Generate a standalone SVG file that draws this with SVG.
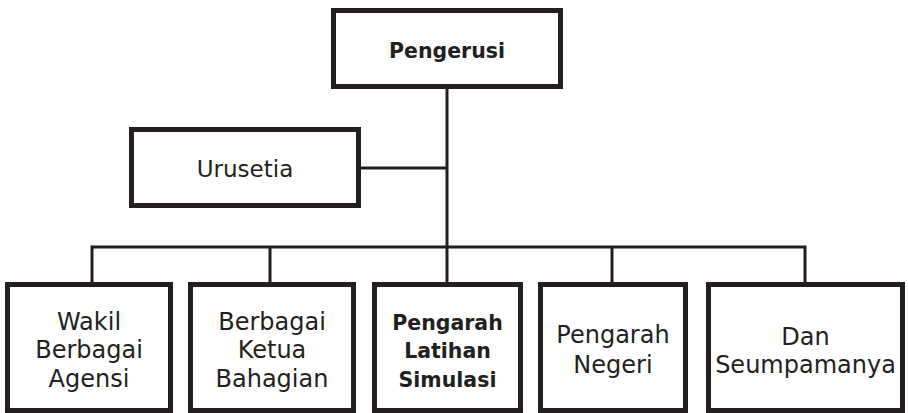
<svg xmlns="http://www.w3.org/2000/svg" width="908" height="413" viewBox="0 0 908 413">
<style>
.box{fill:#fff;stroke:#231f20;stroke-width:5}
.ln{fill:none;stroke:#231f20;stroke-width:3}
.t{font-family:"DejaVu Sans","Liberation Sans",sans-serif;font-size:23px;fill:#231f20;text-anchor:middle}
.s{font-size:24px}
.b{font-weight:bold;font-size:20.5px}
</style>
<rect width="908" height="413" fill="#fff"/>
<g id="connectors">
<path class="ln" d="M447 89V247M361 168H447M92 282V247H805V282M270 247V282M447 247V282M612 247V282"/>
</g>
<g id="pengerusi">
<rect class="box" x="333.5" y="10.5" width="227" height="76"/>
<text class="t b" x="447" y="58">Pengerusi</text>
</g>
<g id="urusetia">
<rect class="box" x="131.5" y="129.5" width="227" height="76"/>
<text class="t" x="245" y="177">Urusetia</text>
</g>
<g id="wakil">
<rect class="box" x="7.5" y="284.5" width="163" height="126"/>
<text class="t s" x="89" y="330">Wakil</text>
<text class="t s" x="89" y="358">Berbagai</text>
<text class="t s" x="89" y="387">Agensi</text>
</g>
<g id="ketua">
<rect class="box" x="190.5" y="284.5" width="163" height="126"/>
<text class="t s" x="272" y="330">Berbagai</text>
<text class="t s" x="272" y="358">Ketua</text>
<text class="t s" x="272" y="387">Bahagian</text>
</g>
<g id="pengarah-latihan">
<rect class="box" x="374.5" y="284.5" width="146" height="126"/>
<text class="t b" x="447.5" y="330">Pengarah</text>
<text class="t b" x="447.5" y="358">Latihan</text>
<text class="t b" x="447.5" y="387">Simulasi</text>
</g>
<g id="pengarah-negeri">
<rect class="box" x="540.5" y="284.5" width="145" height="126"/>
<text class="t s" x="613" y="343">Pengarah</text>
<text class="t s" x="613" y="373">Negeri</text>
</g>
<g id="dan">
<rect class="box" x="708.5" y="284.5" width="194" height="126"/>
<text class="t s" x="805.5" y="345">Dan</text>
<text class="t s" x="805.5" y="373">Seumpamanya</text>
</g>
</svg>
